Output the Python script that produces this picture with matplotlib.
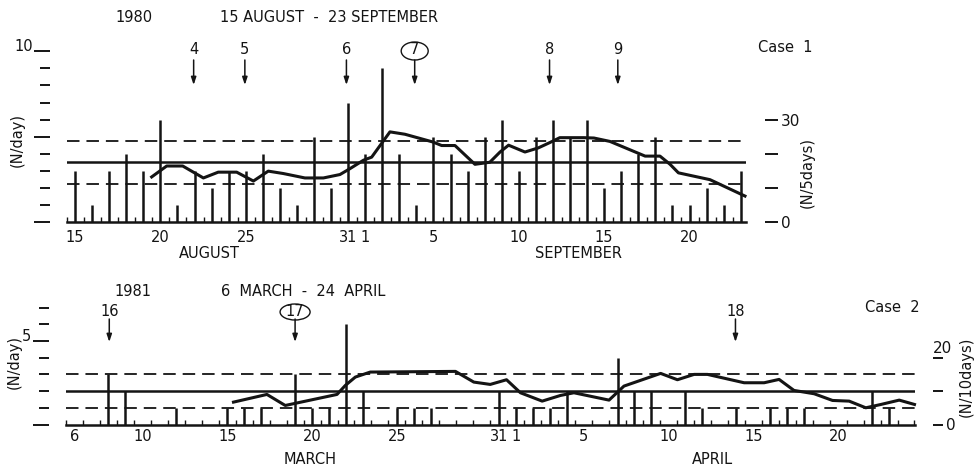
import numpy as np
import matplotlib
matplotlib.use('Agg')
import matplotlib.pyplot as plt
from matplotlib import transforms
from matplotlib.patches import Ellipse
from matplotlib.ticker import FixedLocator, FixedFormatter, NullFormatter

plt.rcParams['font.family'] = 'DejaVu Sans'
plt.rcParams['lines.scale_dashes'] = False

W, H = 974, 470
INK = '#141414'

# ---- Case 1: 15 August - 23 September 1980 (day 0 = 15 Aug) ----
aug_counts = [3, 1, 3, 4, 3, 6, 1, 3, 2, 3, 3, 4, 2, 1, 5, 2, 7,
              4, 9, 4, 1, 5, 4, 3, 5, 6, 3, 5, 6, 5, 6, 2, 3, 4, 5, 1, 1, 2, 1, 3]
aug_days = np.arange(len(aug_counts))
# running 5-day totals (N/5days)
aug_run_x = [4.49, 5.37, 6.31, 7.52, 8.39, 9.47, 10.45, 11.32, 12.2, 13.47, 14.55,
             15.52, 16.1, 16.9, 17.38, 18.45, 19.33, 20.99, 21.48, 22.26, 23.43,
             24.3, 24.9, 25.4, 26.36, 27.14, 27.83, 28.4, 29.8, 30.4, 31.34,
             33.4, 34.27, 34.86, 35.35, 37.2, 39.25]
aug_run_y = [13.2, 16.4, 16.4, 12.9, 14.6, 14.6, 12.0, 14.9, 14.2, 12.9, 12.9,
             13.9, 15.6, 18.1, 19.0, 26.4, 25.7, 23.4, 22.4, 22.4, 16.9,
             17.5, 20.5, 22.5, 20.5, 21.7, 23.3, 24.7, 24.7, 24.6, 23.6,
             19.3, 19.3, 16.9, 14.4, 12.4, 7.6]
aug_levels = (17.5, 23.8, 11.0)          # mean, upper, lower (N/5days)
aug_events = [6.95, 9.95, 15.9, 19.9, 27.8, 31.8]
aug_event_labels = ['4', '5', '6', '7', '8', '9']
aug_tick_days = [0, 5, 10, 16, 17, 21, 26, 31, 36]
aug_tick_labels = ['15', '20', '25', '31', '1', '5', '10', '15', '20']

# ---- Case 2: 6 March - 24 April 1981 (day 0 = 6 Mar) ----
mar_days = [2, 3, 6, 9, 10, 11, 13, 14, 15, 16, 17, 19, 20, 21,
            25, 26, 27, 28, 29, 32, 33, 34, 36, 37, 39, 41, 42, 43, 47, 48]
mar_counts = [3, 2, 1, 1, 1, 1, 3, 1, 1, 6, 2, 1, 1, 1,
              2, 1, 1, 1, 2, 4, 2, 2, 2, 1, 1, 1, 1, 1, 2, 1]
# running 10-day totals (N/10days)
mar_run_x = [9.37, 11.34, 12.42, 15.47, 15.96, 16.55, 17.43, 22.45, 23.53, 24.5,
             25.46, 26.28, 27.56, 28.64, 29.43, 31.5, 32.38, 34.54, 35.53, 36.51,
             37.3, 39.46, 40.64, 41.52, 42.4, 43.59, 44.67, 45.65, 46.63, 47.52,
             48.6, 49.5]
mar_run_y = [6.7, 9.0, 5.7, 9.0, 11.7, 14.2, 15.7, 15.9, 12.7, 12.0,
             13.4, 9.5, 7.0, 8.7, 9.5, 7.3, 11.5, 15.3, 13.4, 15.0,
             15.0, 12.5, 12.5, 13.5, 10.2, 9.2, 7.2, 7.0, 5.0, 6.0,
             7.3, 6.0]
mar_levels = (10.0, 15.0, 5.0)           # mean, upper, lower (N/10days)
mar_events = [2.05, 13.0, 38.95]
mar_event_labels = ['16', '17', '18']
mar_tick_days = [0, 4, 9, 14, 19, 25, 26, 30, 35, 40, 45]
mar_tick_labels = ['6', '10', '15', '20', '25', '31', '1', '5', '10', '15', '20']

circled = {'7', '17'}

fig = plt.figure(figsize=(W / 100, H / 100), dpi=100)
fig.patch.set_facecolor('white')


def px(x, y):
    return x / W, 1 - y / H


def draw_case(left, right, top, base, xlim, ylim, days, counts, run_x, run_y,
              levels, tick_days, tick_labels, xpad, lmajor, lminor, rticks, rlabels,
              out_l, out_r, rlen):
    ax = fig.add_axes([left / W, 1 - base / H, (right - left) / W, (base - top) / H])
    ax.set_xlim(*xlim)
    ax.set_ylim(0, ylim)
    ax.patch.set_alpha(0)
    ax.vlines(days, 0, counts, colors=INK, lw=1.8)

    ax2 = ax.twinx()
    ax2.set_ylim(0, ylim * 5)
    mean, hi, lo = levels
    ax2.axhline(mean, color=INK, lw=1.8)
    for v in (hi, lo):
        ax2.axhline(v, color=INK, lw=1.3, ls=(0, (9, 5)))
    ax2.plot(run_x, run_y, color=INK, lw=2.2, solid_joinstyle='round', clip_on=False)

    for a in (ax, ax2):
        for s in ('top', 'left', 'right'):
            a.spines[s].set_visible(False)
    ax.spines['bottom'].set_linewidth(1.8)
    ax.spines['bottom'].set_color(INK)
    ax2.spines['bottom'].set_visible(False)

    # day axis: labels at chosen dates, small ticks on the day boundaries
    ax.xaxis.set_major_locator(FixedLocator(tick_days))
    ax.xaxis.set_major_formatter(FixedFormatter(tick_labels))
    ax.xaxis.set_minor_locator(FixedLocator(np.arange(xlim[0], xlim[1], 1.0)))
    ax.tick_params(axis='x', which='major', length=0, pad=xpad, labelsize=10.5, colors=INK)
    ax.tick_params(axis='x', which='minor', direction='in', length=3.5, width=1, colors=INK)

    # N/day scale, detached on the left
    ax.spines['left'].set_position(('outward', out_l))
    ax.yaxis.set_major_locator(FixedLocator(lmajor))
    ax.yaxis.set_minor_locator(FixedLocator(lminor))
    ax.yaxis.set_major_formatter(NullFormatter())
    ax.tick_params(axis='y', which='major', direction='out', length=11.5, width=1.4,
                   colors=INK, left=True)
    ax.tick_params(axis='y', which='minor', direction='out', length=7.2, width=1.4,
                   colors=INK, left=True)

    # running-total scale on the right
    ax2.spines['right'].set_position(('outward', out_r))
    ax2.yaxis.set_major_locator(FixedLocator(rticks))
    ax2.yaxis.set_major_formatter(FixedFormatter(rlabels))
    ax2.tick_params(axis='y', direction='out', length=rlen, width=1.4, pad=2,
                    labelsize=11, colors=INK)
    return ax, ax2


def events(ax, xs, labels, y_txt, y_tail, y_tip, day_px, ring=(28, 17)):
    tr = transforms.blended_transform_factory(ax.transData, fig.transFigure)
    for x, lab in zip(xs, labels):
        ax.text(x, 1 - y_txt / H, lab, transform=tr, ha='center', va='center',
                fontsize=10.5, color=INK)
        if lab in circled:
            ax.add_patch(Ellipse((x, 1 - (y_txt + 1) / H), ring[0] / day_px, ring[1] / H,
                                 transform=tr, fc='none', ec=INK, lw=1.0, clip_on=False))
        ax.annotate('', xy=(x, 1 - y_tip / H), xycoords=tr,
                    xytext=(x, 1 - y_tail / H), textcoords=tr,
                    arrowprops=dict(arrowstyle='-|>,head_length=0.45,head_width=0.15',
                                    color=INK, lw=1.1, shrinkA=0, shrinkB=0))


def month(ax, x, y, name):
    tr = transforms.blended_transform_factory(ax.transData, fig.transFigure)
    ax.text(x, 1 - y / H, name, transform=tr, ha='center', va='center',
            fontsize=10.5, color=INK)


# upper panel
ax_a, ax_a2 = draw_case(67, 746, 45, 222, (-0.47, 39.31), 177 / 17.07,
                        aug_days, aug_counts, aug_run_x, aug_run_y, aug_levels,
                        aug_tick_days, aug_tick_labels, 6,
                        [0, 5, 10], [1, 2, 3, 4, 6, 7, 8, 9],
                        [0, 10, 20, 30], ['0', '', '', '30'], 12.2, 13.7, 9.4)
events(ax_a, aug_events, aug_event_labels, 50, 60, 85, 17.07, ring=(27, 18))
month(ax_a, 7.85, 253, 'AUGUST')
month(ax_a, 29.5, 253, 'SEPTEMBER')
ax_a.annotate('10', xy=(0, 10), xycoords=('axes fraction', 'data'),
              xytext=(-24.5, 0), textcoords='offset points',
              ha='right', va='baseline', fontsize=10.5, color=INK)

# lower panel
ax_b, ax_b2 = draw_case(66, 915, 300, 424.5, (-0.5, 49.53), 124.5 / 16.7,
                        mar_days, mar_counts, mar_run_x, mar_run_y, mar_levels,
                        mar_tick_days, mar_tick_labels, 3.5,
                        [0, 5], [1, 2, 3, 4, 6, 7],
                        [0, 10, 20], ['0', '', ''], 12.2, 13.0, 7.2)
events(ax_b, mar_events, mar_event_labels, 311, 319, 342, 16.97, ring=(30, 16))
month(ax_b, 13.9, 459, 'MARCH')
month(ax_b, 37.6, 460, 'APRIL')
ax_b.annotate('5', xy=(0, 5), xycoords=('axes fraction', 'data'),
              xytext=(-25, 0), textcoords='offset points',
              ha='right', va='baseline', fontsize=10.5, color=INK)
ax_b2.annotate('20', xy=(1, 20), xycoords=('axes fraction', 'data'),
               xytext=(13, 1), textcoords='offset points',
               ha='left', va='bottom', fontsize=11, color=INK)

# headings and axis names
for x, y, s in [(134, 18, '1980'), (329, 18, '15 AUGUST  -  23 SEPTEMBER'),
                (785, 47, 'Case  1'),
                (133, 292, '1981'), (303, 292, '6  MARCH  -  24  APRIL'),
                (892, 308, 'Case  2')]:
    fig.text(*px(x, y), s, ha='center', va='center', fontsize=10.5, color=INK)

for x, y, s in [(17, 140, '(N/day)'), (807, 172, '(N/5days)'),
                (14, 362, '(N/day)'), (966, 377, '(N/10days)')]:
    fig.text(*px(x, y), s, ha='center', va='center', rotation=90,
             fontsize=10.5, color=INK)

fig.savefig('out.png', dpi=100, facecolor='white')
